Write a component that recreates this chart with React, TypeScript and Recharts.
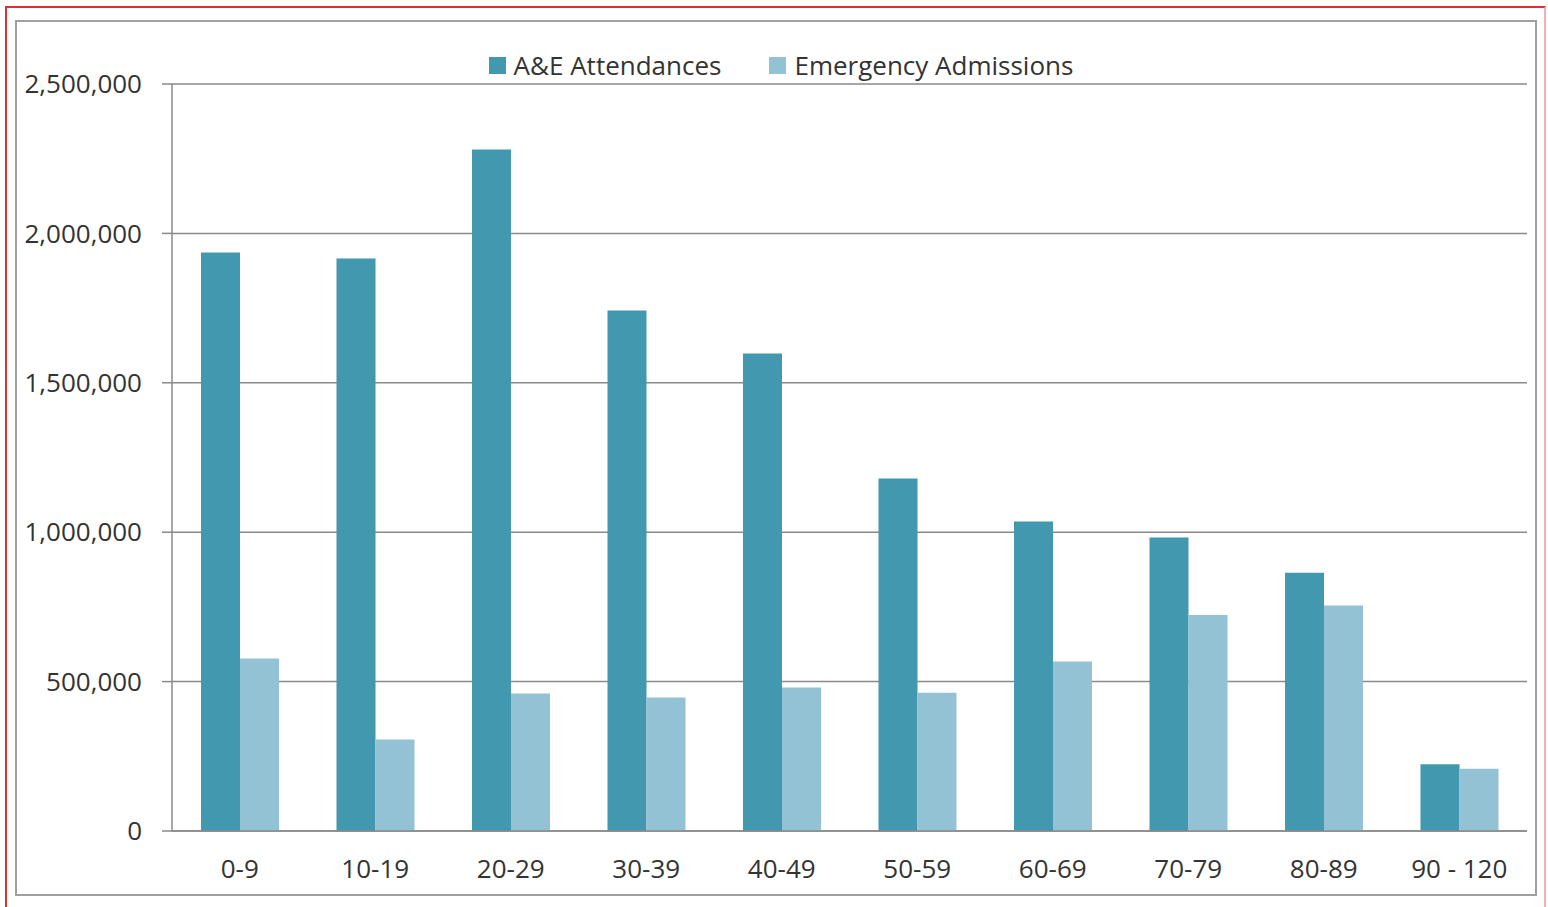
import React from "react";
import { BarChart, Bar, XAxis, YAxis, CartesianGrid, Legend } from "recharts";

const ageGroups = ["0-9", "10-19", "20-29", "30-39", "40-49", "50-59", "60-69", "70-79", "80-89", "90 - 120"];
const aeAttendances = [1936000, 1916000, 2281000, 1742000, 1598000, 1180000, 1036000, 982000, 864000, 223000];
const emergencyAdmissions = [577000, 306000, 460000, 447000, 480000, 463000, 567000, 723000, 755000, 208000];
const yTicks = [0, 500000, 1000000, 1500000, 2000000, 2500000];

const data = ageGroups.map((name, i) => ({
  name,
  ae: aeAttendances[i],
  ea: emergencyAdmissions[i],
}));

const FONT = "'Open Sans', sans-serif";
const TEXT = "#333333";
const GRID = "#8a8a8a";
const AE_COLOR = "#4298ae";
const EA_COLOR = "#93c2d4";

function LegendBox() {
  const items = [
    { label: "A&E Attendances", color: AE_COLOR },
    { label: "Emergency Admissions", color: EA_COLOR },
  ];
  return (
    <div style={{ display: "flex", justifyContent: "center", fontFamily: FONT, fontSize: 26, color: TEXT, paddingLeft: 14 }}>
      {items.map((it, i) => (
        <div key={it.label} style={{ display: "flex", alignItems: "center", marginLeft: i ? 48 : 0 }}>
          <span style={{ width: 17, height: 17, background: it.color, marginRight: 8, display: "inline-block" }} />
          <span>{it.label}</span>
        </div>
      ))}
    </div>
  );
}

export default function App() {
  return (
    <div style={{ position: "absolute", left: 0, top: 0, width: 1548, height: 907, background: "#fff", overflow: "hidden" }}>
      <div style={{ position: "absolute", left: 5, top: 6, width: 1541, height: 910, borderTop: "2px solid #dc2f36", borderLeft: "2px solid #dc2f36", borderRight: "2px solid #f0b0b4", boxSizing: "border-box", zIndex: 5, pointerEvents: "none" }} />
      <div style={{ position: "absolute", left: 15, top: 20, width: 1522, height: 876, border: "2px solid #a0a0a0", boxSizing: "border-box", zIndex: 5, pointerEvents: "none" }} />
      <div style={{ position: "absolute", left: 0, top: 0 }}>
        <BarChart
          width={1548}
          height={907}
          data={data}
          margin={{ top: 84, right: 21, bottom: 46, left: 22 }}
          barCategoryGap={29}
          barGap={0}
        >
          <CartesianGrid horizontal vertical={false} stroke={GRID} strokeWidth={1.5} />
          <XAxis
            dataKey="name"
            tickLine={false}
            tickSize={0}
            tickMargin={29}
            axisLine={{ stroke: GRID, strokeWidth: 1.5 }}
            tick={{ fill: TEXT, fontSize: 26, fontFamily: FONT }}
            interval={0}
          />
          <YAxis
            width={150}
            domain={[0, 2500000]}
            ticks={yTicks}
            tickSize={10}
            tickMargin={20}
            tickLine={{ stroke: GRID, strokeWidth: 1.5 }}
            axisLine={{ stroke: GRID, strokeWidth: 1.5 }}
            tick={{ fill: TEXT, fontSize: 26, fontFamily: FONT }}
            tickFormatter={(v: number) => v.toLocaleString("en-US")}
          />
          <Legend
            verticalAlign="middle"
            align="center"
            content={() => <LegendBox />}
            wrapperStyle={{ top: 47, left: 0, width: 1548 }}
          />
          <Bar dataKey="ae" name="A&E Attendances" fill={AE_COLOR} isAnimationActive={false} />
          <Bar dataKey="ea" name="Emergency Admissions" fill={EA_COLOR} isAnimationActive={false} />
        </BarChart>
      </div>
    </div>
  );
}
